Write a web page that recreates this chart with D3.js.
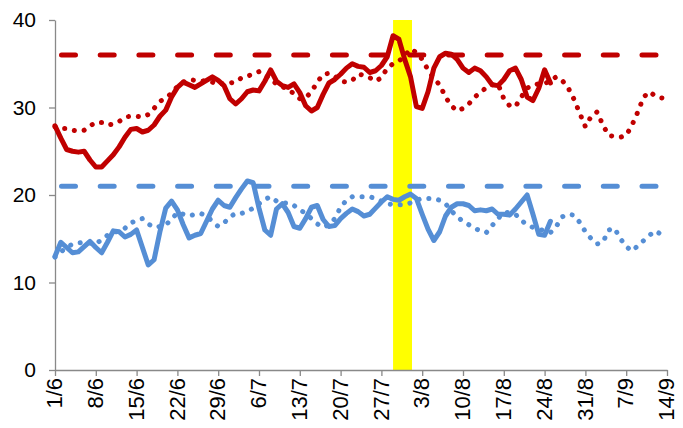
<!DOCTYPE html>
<html>
<head>
<meta charset="utf-8">
<script src="https://cdn.jsdelivr.net/npm/d3@7"></script>
<style>
  body { margin: 0; background: #fff; }
  svg { display: block; }
  .axis path, .axis line { stroke: #898989; stroke-width: 1.3; }
</style>
</head>
<body>
<svg id="chart" width="683" height="428"></svg>
<script>
// daily values from 1/6 to 14/9
const firstDay = "1/6";
const lastDay = "14/9";
const tickLabels = ["1/6", "8/6", "15/6", "22/6", "29/6", "6/7", "13/7", "20/7", "27/7",
    "3/8", "10/8", "17/8", "24/8", "31/8", "7/9", "14/9"];
const yTicks = [0, 10, 20, 30, 40];

// highlighted period and the two limit lines
const highlight = ["29/7", "1/8"];
const redLimit = 36;
const blueLimit = 21;

// solid series: 1/6 .. 25/8
const redSolid = [27.9, 26.5, 25.2, 25.0, 24.9, 25.0, 24.0, 23.2, 23.2, 23.9,
    24.6, 25.5, 26.6, 27.5, 27.6, 27.2, 27.4, 28.0, 29.0, 29.7,
    31.2, 32.3, 32.9, 32.6, 32.3, 32.7, 33.1, 33.5, 33.1, 32.5,
    31.0, 30.4, 31.0, 31.8, 32.0, 31.9, 33.0, 34.3, 33.0, 32.5,
    32.3, 32.7, 31.7, 30.2, 29.6, 30.0, 31.5, 32.8, 33.2, 33.8,
    34.5, 35.0, 34.7, 34.6, 34.0, 34.2, 34.8, 35.8, 38.2, 37.8,
    35.5, 33.5, 30.1, 29.9, 31.8, 34.5, 35.8, 36.2, 36.1, 35.5,
    34.5, 34.0, 34.5, 34.2, 33.5, 32.6, 32.5, 33.2, 34.2, 34.5,
    33.2, 31.2, 30.8, 32.2, 34.3, 32.8];
const blueSolid = [13.0, 14.6, 14.0, 13.4, 13.5, 14.1, 14.7, 14.0, 13.4, 14.6,
    15.9, 15.8, 15.2, 15.5, 16.0, 14.0, 12.0, 12.6, 15.8, 18.5,
    19.3, 18.3, 16.6, 15.1, 15.4, 15.6, 17.0, 18.4, 19.4, 18.8,
    18.6, 19.7, 20.7, 21.6, 21.4, 18.5, 16.0, 15.4, 18.4, 19.0,
    18.0, 16.4, 16.2, 17.3, 18.6, 18.8, 17.2, 16.4, 16.5, 17.3,
    17.9, 18.4, 18.1, 17.6, 17.8, 18.5, 19.2, 19.8, 19.5, 19.4,
    19.8, 20.1, 19.6, 17.8, 16.1, 14.8, 15.8, 17.6, 18.6, 19.0,
    19.0, 18.8, 18.2, 18.3, 18.2, 18.4, 17.8, 17.8, 17.7, 18.4,
    19.2, 20.0, 17.8, 15.5, 15.4, 17.0];

// dotted series: 1/6 .. 14/9
const redDotted = [27.8, 27.6, 27.6, 27.4, 27.3, 27.4, 27.9, 28.3, 28.3, 28.0,
    28.1, 28.4, 28.9, 29.0, 29.0, 28.9, 29.2, 29.9, 30.7, 31.1,
    31.6, 32.4, 32.9, 33.2, 33.1, 33.0, 33.1, 32.9, 32.6, 32.8,
    32.8, 32.9, 33.4, 33.6, 33.8, 34.1, 33.8, 33.2, 32.7, 32.4,
    32.0, 31.6, 31.0, 31.1, 31.8, 32.9, 33.8, 33.9, 33.6, 33.0,
    32.9, 33.1, 33.8, 33.7, 33.4, 33.0, 33.4, 34.5, 35.0, 35.3,
    35.9, 36.7, 36.3, 35.5, 34.3, 33.3, 32.6, 31.2, 30.2, 29.6,
    29.9, 30.4, 31.2, 31.7, 32.3, 32.6, 32.7, 31.0, 30.2, 30.1,
    31.2, 32.2, 32.6, 32.7, 32.7, 33.1, 33.5, 33.1, 32.3, 31.0,
    29.4, 27.8, 29.0, 29.5, 28.0, 26.8, 26.7, 26.6, 26.8, 28.0,
    29.5, 31.2, 31.8, 31.3, 31.1, 31.0];
const blueDotted = [12.9, 13.5, 14.0, 14.4, 14.5, 14.6, 14.5, 14.4, 14.9, 15.4,
    15.7, 15.9, 16.2, 16.8, 17.1, 17.3, 16.7, 16.3, 16.4, 16.6,
    17.2, 18.0, 17.8, 17.6, 17.8, 17.9, 17.6, 17.0, 16.4, 16.8,
    17.5, 17.9, 17.9, 18.1, 18.5, 19.0, 19.5, 19.8, 19.3, 19.1,
    19.1, 18.8, 18.3, 17.9, 17.3, 16.7, 16.3, 16.6, 17.3, 18.6,
    19.4, 19.8, 19.8, 19.8, 19.8, 19.6, 19.3, 19.0, 18.9, 18.9,
    18.9, 19.1, 19.4, 19.6, 19.6, 19.6, 19.4, 19.0, 18.2, 17.5,
    17.0, 16.6, 16.2, 15.9, 15.7, 16.5, 17.3, 18.0, 18.0, 17.8,
    17.1, 16.6, 16.3, 16.1, 15.9, 15.7, 16.4, 17.5, 17.8, 17.7,
    16.9, 15.8, 15.0, 14.4, 14.6, 16.0, 16.2, 15.0, 14.1, 13.6,
    14.2, 14.8, 15.4, 15.9, 15.5, 15.2];

const red = "#C00000";
const blue = "#558ED5";

function parseDay(s) {
    var p = s.split("/");
    return new Date(2023, +p[1] - 1, +p[0]);
}

var days = d3.timeDay.range(parseDay(firstDay), d3.timeDay.offset(parseDay(lastDay), 1));

var svg = d3.select("#chart");

var x = d3.scaleTime()
    .domain([parseDay(firstDay), parseDay(lastDay)])
    .range([55, 667]);
var y = d3.scaleLinear()
    .domain([0, 40])
    .range([370, 20]);

// yellow highlight
svg.append("rect")
    .attr("x", x(parseDay(highlight[0])))
    .attr("y", y(40))
    .attr("width", x(d3.timeHour.offset(parseDay(highlight[1]), 6)) - x(parseDay(highlight[0])))
    .attr("height", y(0) - y(40))
    .attr("fill", "#FFFF00");

// axes
var yAxis = svg.append("g")
    .attr("class", "axis")
    .attr("transform", "translate(55,0)")
    .call(d3.axisLeft(y).tickValues(yTicks).tickSize(6).tickSizeOuter(0).tickPadding(13));
yAxis.selectAll("text")
    .attr("fill", "#000")
    .style("font-family", "'Liberation Sans', Arial, sans-serif")
    .style("font-size", "21px");

var xAxis = svg.append("g")
    .attr("class", "axis")
    .attr("transform", "translate(0,370)")
    .call(d3.axisBottom(x)
        .tickValues(tickLabels.map(parseDay))
        .tickFormat((d, i) => tickLabels[i])
        .tickSize(6).tickSizeOuter(0));
xAxis.selectAll("text")
    .attr("fill", "#000")
    .style("font-family", "'Liberation Sans', Arial, sans-serif")
    .style("font-size", "22px")
    .attr("transform", "rotate(-90)")
    .attr("x", -8)
    .attr("y", -1)
    .attr("dy", "0.35em")
    .style("text-anchor", "end");

// limit lines
[[redLimit, red], [blueLimit, blue]].forEach(([v, c]) => {
    svg.append("line")
        .attr("x1", x(parseDay(firstDay)))
        .attr("x2", x(parseDay(lastDay)) - 8)
        .attr("y1", y(v))
        .attr("y2", y(v))
        .attr("stroke", c)
        .attr("stroke-width", 5)
        .attr("stroke-linecap", "round")
        .attr("stroke-dasharray", "14 24.7")
        .attr("stroke-dashoffset", -6.5);
});

var line = d3.line()
    .x((d, i) => x(days[i]))
    .y(d => y(d));

function drawSeries(values, colour, dotted) {
    var path = svg.append("path")
        .datum(values)
        .attr("d", line)
        .attr("fill", "none")
        .attr("stroke", colour)
        .attr("stroke-width", 5)
        .attr("stroke-linejoin", "round")
        .attr("stroke-linecap", "round");
    if (dotted) {
        path.attr("stroke-dasharray", "0.1 9.8");
    }
}

drawSeries(redDotted, red, true);
drawSeries(blueDotted, blue, true);
drawSeries(redSolid, red, false);
drawSeries(blueSolid, blue, false);
</script>
</body>
</html>
